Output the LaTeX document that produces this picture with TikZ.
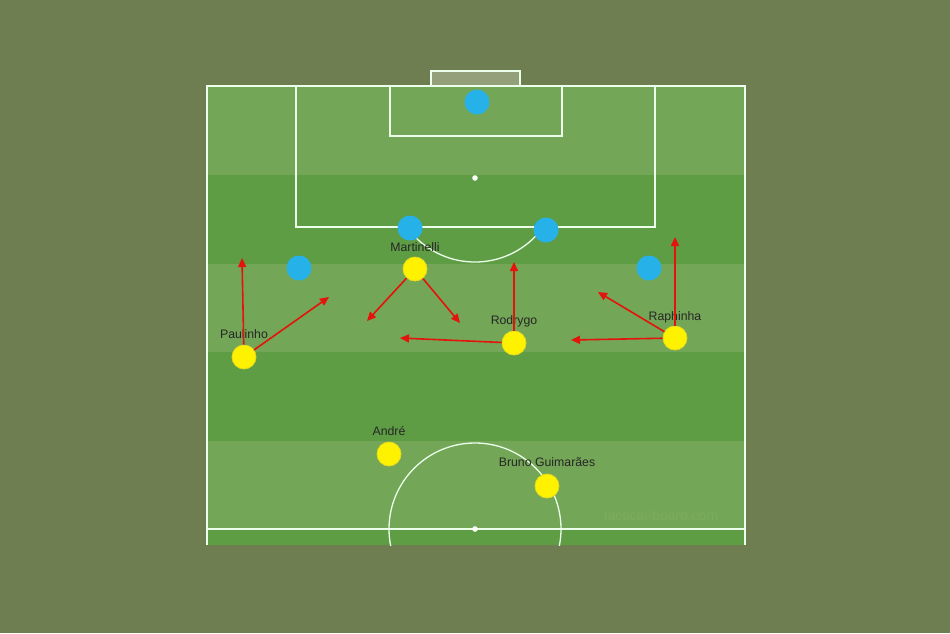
\documentclass[tikz,border=0pt]{standalone}
\usepackage{fontspec}
\setmainfont{Liberation Sans}
\usepackage{tikz}
\usetikzlibrary{arrows.meta,positioning}

\definecolor{bgolive}{RGB}{110,126,81}
\definecolor{pitchlight}{RGB}{115,166,86}
\definecolor{pitchdark}{RGB}{95,157,69}
\definecolor{goalgrey}{RGB}{148,160,122}
\definecolor{theirblue}{RGB}{38,178,232}
\definecolor{runred}{RGB}{228,20,12}
\definecolor{markgreen}{RGB}{124,172,95}

\tikzset{
  ourman/.style={circle, fill=yellow, draw=yellow!88!black, line width=0.8pt, minimum size=24pt, inner sep=0pt},
  theirman/.style={circle, fill=theirblue, minimum size=25pt, inner sep=0pt},
  run/.style={draw=runred, line width=1.6pt, -{Triangle[length=9pt,width=8pt]}},
  pitchline/.style={draw=white!92!green, line width=1.3pt},
  tag/.style={font=\fontsize{12.3}{14}\selectfont, text=black!85, inner sep=0pt, anchor=base}
}

\begin{document}
\begin{tikzpicture}[x=1pt, y=-1pt]
        \useasboundingbox (0,0) rectangle (950,633);
        \fill[bgolive] (0,0) rectangle (950,633);
        % stripes
        \fill[pitchlight] (207,86) rectangle (745,545);
        \foreach \y in {175,352,529}
            \fill[pitchdark] (207,\y) rectangle (745,{min(\y+88.7,545)});
        % goal and lines
        \filldraw[fill=goalgrey, pitchline] (431,71) rectangle (520,86);
        \draw[pitchline] (207,545) -- (207,86) -- (745,86) -- (745,545);
        \draw[pitchline] (207,529) -- (745,529);
        \draw[pitchline] (296,86) -- (296,227) -- (655,227) -- (655,86);
        \draw[pitchline] (390,86) -- (390,136) -- (562,136) -- (562,86);
        \fill[white] (475,178) circle (2.8);
        \fill[white] (475,529) circle (2.8);
        \begin{scope}
            \clip (207,227) rectangle (745,300);
            \draw[pitchline] (475,178) circle (84);
        \end{scope}
        \begin{scope}
            \clip (207,86) rectangle (745,545);
            \draw[pitchline] (475,529) circle (86);
        \end{scope}
        \node[font=\fontsize{14}{16}\selectfont, text=markgreen] (watermark) at (661,515) {tactical-board.com};

        % opponents
        \node[theirman] (keeper) at (477,102) {};
        \node[theirman] (cbleft) at (410,228) {};
        \node[theirman] (cbright) at (546,230) {};
        \node[theirman] (fbleft) at (299,268) {};
        \node[theirman] (fbright) at (649,268) {};

        % our players
        \node[ourman] (martinelli) at (415,269) {};
        \node[ourman] (paulinho) at (244,357) {};
        \node[ourman] (rodrygo) at (514,343) {};
        \node[ourman] (raphinha) at (675,338) {};
        \node[ourman] (andre) at (389,454) {};
        \node[ourman] (bruno) at (547,486) {};
        \node[tag] (martinellitag) at ([yshift=5pt]martinelli.north) {Martinelli};
        \node[tag] (paulinhotag) at ([yshift=6pt]paulinho.north) {Paulinho};
        \node[tag] (rodrygotag) at ([yshift=6pt]rodrygo.north) {Rodrygo};
        \node[tag] (raphinhatag) at ([yshift=5pt]raphinha.north) {Raphinha};
        \node[tag] (andretag) at ([yshift=6pt]andre.north) {André};
        \node[tag] (brunotag) at ([yshift=7pt]bruno.north) {Bruno Guimarães};

        % runs
        \coordinate (paulinhoup) at (242,258);
        \coordinate (paulinhodiag) at (329,297);
        \coordinate (martinellileft) at (367,321);
        \coordinate (martinelliright) at (460,323);
        \coordinate (rodrygoup) at (514,262);
        \coordinate (rodrygoleft) at (400,338);
        \coordinate (raphinhaup) at (675,237);
        \coordinate (raphinhaleft) at (571,340);
        \coordinate (raphinhadiag) at (598,292);
        \draw[run] (paulinho) -- (paulinhoup);
        \draw[run] (paulinho) -- (paulinhodiag);
        \draw[run] (martinelli) -- (martinellileft);
        \draw[run] (martinelli) -- (martinelliright);
        \draw[run] (rodrygo) -- (rodrygoup);
        \draw[run] (rodrygo) -- (rodrygoleft);
        \draw[run] (raphinha) -- (raphinhaup);
        \draw[run] (raphinha) -- (raphinhaleft);
        \draw[run] (raphinha) -- (raphinhadiag);
\end{tikzpicture}
\end{document}
